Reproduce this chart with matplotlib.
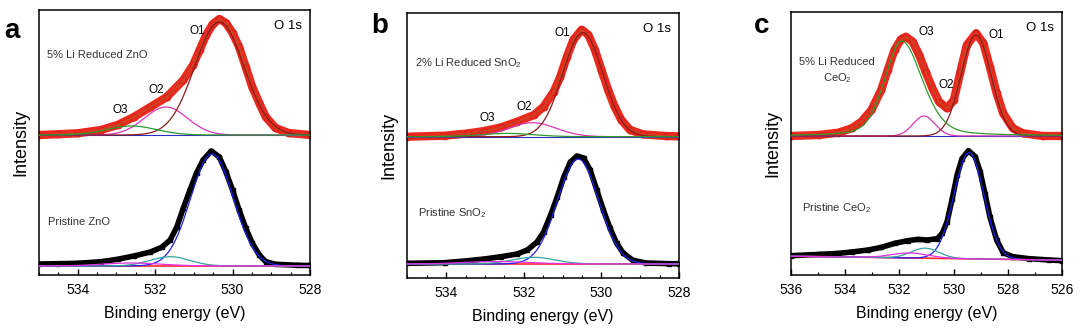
import numpy as np
import matplotlib
matplotlib.use('Agg')
import matplotlib.pyplot as plt
from matplotlib.ticker import MultipleLocator

plt.rcParams['font.family'] = ['Liberation Sans', 'DejaVu Sans']
plt.rcParams['mathtext.default'] = 'regular'

a_top_be = [535.0, 534.5, 534.0, 533.4, 532.97, 532.55, 532.12, 531.70, 531.27, 531.02,
            530.85, 530.68, 530.51, 530.34, 530.17, 530.00, 529.83, 529.66, 529.49,
            529.31, 529.14, 528.89, 528.55, 528.0]
a_top_int = [0, 0.8, 1.7, 5, 10, 18, 28, 38, 55, 70, 85, 100, 111, 116, 112, 102, 88, 68,
             48, 32, 18, 7, 2, 0]
a_bot_be = [535.0, 534.5, 534.0, 533.4, 532.97, 532.55, 532.12, 531.83, 531.61, 531.44,
            531.27, 531.10, 530.93, 530.76, 530.55, 530.34, 530.17, 530.00, 529.83,
            529.66, 529.49, 529.31, 529.14, 528.89, 528.3, 528.0]
a_bot_int = [2, 2.3, 2.7, 4.3, 6.7, 10, 14, 18.7, 26, 39, 58, 76, 93, 106, 115, 109, 94,
             76, 56, 38, 23, 11, 4.3, 1.7, 0.7, 0.5]

b_top_be = [535.0, 534.04, 533.44, 533.02, 532.59, 532.17, 531.74, 531.49, 531.23, 531.06,
            530.89, 530.72, 530.51, 530.34, 530.17, 530.00, 529.83, 529.66, 529.49,
            529.27, 528.93, 528.34, 528.0]
b_top_int = [0, 1, 3.3, 5.7, 9.3, 15, 21.7, 30, 45, 60, 80, 97, 107, 102, 87, 67, 47, 30,
             17, 7, 2.3, 0.7, 0.3]
b_bot_be = [535.0, 534.04, 533.44, 533.02, 532.59, 532.17, 531.91, 531.66, 531.49, 531.31,
            531.14, 530.97, 530.80, 530.63, 530.46, 530.29, 530.12, 529.95, 529.78,
            529.61, 529.44, 529.19, 528.85, 528.25, 528.0]
b_bot_int = [0.7, 1.3, 3.3, 5, 7.3, 10, 14, 22, 32, 49, 67, 87, 102, 108, 106, 94, 74, 54,
             36, 21, 11, 3.7, 1, 0.3, 0.3]

c_top_be = [536.0, 534.98, 534.25, 533.76, 533.40, 533.03, 532.67, 532.43, 532.18, 531.94,
            531.76, 531.51, 531.27, 531.03, 530.78, 530.54, 530.24, 529.99, 529.75,
            529.51, 529.17, 528.90, 528.66, 528.41, 528.17, 527.81, 527.44, 526.71, 526.0]
c_top_int = [0, 1, 3.3, 7.7, 14.3, 26, 46, 66, 86, 96.7, 99.3, 94.3, 81, 64, 47.7, 34.3,
             27.7, 36, 64, 91, 102.7, 92.7, 69, 42.7, 22.7, 7.7, 2.7, 0, 0]
c_bot_be = [536.0, 534.98, 534.25, 533.76, 533.15, 532.67, 532.18, 531.70, 531.33, 530.97,
            530.60, 530.42, 530.24, 530.05, 529.87, 529.69, 529.45, 529.20, 529.02,
            528.84, 528.66, 528.41, 528.17, 527.81, 527.20, 526.47, 526.0]
c_bot_int = [5, 6.3, 7.3, 8.7, 10.7, 13.3, 17.3, 20, 21.3, 20.7, 22, 27.3, 39, 62, 85.7,
             102, 110, 104, 89, 67, 44, 20.7, 8, 4, 2, 0.7, 0]

# ── fitted components: centre (eV), height, FWHM high-BE side, FWHM low-BE side, Lorentz frac ──
a_top_center = [530.34, 531.72, 532.60]        # O1, O2, O3
a_top_height = [113, 28, 9]
a_top_fwhm = [1.5, 1.3, 1.5]
a_bot_center = [530.53, 531.61, 532.60]        # main, shoulder, broad
a_bot_height = [112, 9.3, 3]
a_bot_fwhm = [1.3, 1.2, 1.8]

b_top_center = [530.48, 531.78, 532.42]
b_top_height = [104, 14, 3.3]
b_top_fwhm = [1.22, 1.45, 1.6]
b_bot_center = [530.60, 531.74, 532.70]
b_bot_height = [105, 6.7, 2.5]
b_bot_fwhm = [1.25, 1.3, 2.0]

c_top_center = [529.17, 531.09, 531.92]
c_top_height = [101, 20, 95]
c_top_fwhm = [1.3, 0.95, 1.46]
c_top_fwhm_low = [1.3, 0.95, 1.8]
c_top_eta = [0, 0, 0.3]
c_bot_center = [529.43, 531.05, 531.60]
c_bot_height = [106, 10, 5]
c_bot_fwhm = [1.3, 1.2, 1.6]
c_bot_base = [4.5, 0.5]                          # sloped background at 536 / 526 eV


def peak(x, c, h, w_hi, w_lo=None, eta=0.0):
    w_lo = w_hi if w_lo is None else w_lo
    w = np.where(x >= c, w_hi, w_lo)
    u = (x - c) / w
    return h * ((1 - eta) * np.exp(-4 * np.log(2) * u**2) + eta / (1 + 4 * u**2))


RED = '#ea2a1f'
top_cols = ['#8a1c1c', '#d936b8', '#2c9a2c']     # O1, O2, O3
bot_cols = ['#1f1ff0', '#35a3a0', '#e030e0']     # main, shoulder, broad

fig = plt.figure(figsize=(10.8, 3.3), dpi=100)
fig.patch.set_facecolor('white')

rects = [[0.0361, 0.1667, 0.2509, 0.8030],
         [0.3773, 0.1576, 0.2514, 0.8030],
         [0.7324, 0.1667, 0.2509, 0.7970]]
xlims = [(535, 528), (535, 528), (536, 526)]
ylims = [265, 265, 263]
offs = [(140, 9), (141.3, 14), (139, 14.3)]
minors = [0.5, 0.5, 1.0]

tops = [(a_top_be, a_top_int), (b_top_be, b_top_int), (c_top_be, c_top_int)]
bots = [(a_bot_be, a_bot_int), (b_bot_be, b_bot_int), (c_bot_be, c_bot_int)]
top_fits = [(a_top_center, a_top_height, a_top_fwhm, a_top_fwhm, [0, 0, 0]),
            (b_top_center, b_top_height, b_top_fwhm, b_top_fwhm, [0, 0, 0]),
            (c_top_center, c_top_height, c_top_fwhm, c_top_fwhm_low, c_top_eta)]
bot_fits = [(a_bot_center, a_bot_height, a_bot_fwhm, [0, 0]),
            (b_bot_center, b_bot_height, b_bot_fwhm, [0, 0]),
            (c_bot_center, c_bot_height, c_bot_fwhm, c_bot_base)]

axes = []
for i in range(3):
    ax = fig.add_axes(rects[i])
    axes.append(ax)
    x = np.linspace(min(xlims[i]), max(xlims[i]), 500)
    o_top, o_bot = offs[i]

    # top spectrum (Li reduced)
    be, it = tops[i]
    ax.plot(be, np.array(it) + o_top, color=RED, lw=6, marker='o', ms=5,
            mec='#d81f17', mfc=RED, mew=0.6, solid_capstyle='round', zorder=2)
    ax.plot(be, np.array(it) + o_top, color='#8a7a2a', lw=0.5, alpha=0.8, zorder=3)
    cen, hgt, whi, wlo, eta = top_fits[i]
    ax.plot(x, np.zeros_like(x) + o_top, color='#3030c0', lw=0.8, zorder=3)
    for k in [1, 0, 2]:
        ax.plot(x, peak(x, cen[k], hgt[k], whi[k], wlo[k], eta[k]) + o_top,
                color=top_cols[k], lw=0.9, zorder=4)

    # bottom spectrum (pristine)
    be, it = bots[i]
    ax.plot(be, np.array(it) + o_bot, color='black', lw=4, marker='s', ms=3.5,
            mec='black', mfc='black', zorder=2)
    cen, hgt, wid, base = bot_fits[i]
    bg = base[0] + (base[1] - base[0]) * (max(xlims[i]) - x) / (max(xlims[i]) - min(xlims[i]))
    ax.plot(x, bg + o_bot, color='#ff2a2a', lw=1.2, zorder=3)
    for k in [0, 1, 2]:
        ax.plot(x, peak(x, cen[k], hgt[k], wid[k]) + bg + o_bot,
                color=bot_cols[k], lw=0.9, zorder=4)

    ax.set_xlim(*xlims[i])
    ax.set_ylim(0, ylims[i])
    ax.set_yticks([])
    ax.xaxis.set_major_locator(MultipleLocator(2))
    ax.xaxis.set_minor_locator(MultipleLocator(minors[i]))
    ax.tick_params(axis='x', which='major', direction='in', length=4, width=1,
                   labelsize=10, pad=6)
    ax.tick_params(axis='x', which='minor', direction='in', length=2.5, width=0.8)
    for s in ax.spines.values():
        s.set_linewidth(1.1)
    ax.set_xlabel('Binding energy (eV)', fontsize=11.5, labelpad=6.5)
    ax.set_ylabel('Intensity', fontsize=13, labelpad=7)
    ax.text(0.92, 0.94, 'O 1s', transform=ax.transAxes, ha='center', va='center',
            fontsize=9.5)

fs = 8
lc = '#333333'
ax = axes[0]
ax.text(0.03, 0.83, '5% Li Reduced ZnO', transform=ax.transAxes, va='center', fontsize=fs,
        color=lc)
ax.text(0.034, 0.20, 'Pristine ZnO', transform=ax.transAxes, va='center', fontsize=fs,
        color=lc)
ax.text(0.583, 0.921, 'O1', transform=ax.transAxes, ha='center', va='center', fontsize=8.5)
ax.text(0.432, 0.698, 'O2', transform=ax.transAxes, ha='center', va='center', fontsize=8.5)
ax.text(0.299, 0.623, 'O3', transform=ax.transAxes, ha='center', va='center', fontsize=8.5)

ax = axes[1]
ax.text(0.028, 0.811, '2% Li Reduced SnO$_2$', transform=ax.transAxes, va='center',
        fontsize=fs, color=lc)
ax.text(0.039, 0.245, 'Pristine SnO$_2$', transform=ax.transAxes, va='center', fontsize=fs,
        color=lc)
ax.text(0.569, 0.925, 'O1', transform=ax.transAxes, ha='center', va='center', fontsize=8.5)
ax.text(0.429, 0.645, 'O2', transform=ax.transAxes, ha='center', va='center', fontsize=8.5)
ax.text(0.293, 0.604, 'O3', transform=ax.transAxes, ha='center', va='center', fontsize=8.5)

ax = axes[2]
ax.text(0.17, 0.776, '5% Li Reduced\nCeO$_2$', transform=ax.transAxes, ha='center',
        va='center', fontsize=fs, color=lc, linespacing=1.45)
ax.text(0.04, 0.255, 'Pristine CeO$_2$', transform=ax.transAxes, va='center', fontsize=fs,
        color=lc)
ax.text(0.50, 0.924, 'O3', transform=ax.transAxes, ha='center', va='center', fontsize=8.5)
ax.text(0.756, 0.913, 'O1', transform=ax.transAxes, ha='center', va='center', fontsize=8.5)
ax.text(0.572, 0.722, 'O2', transform=ax.transAxes, ha='center', va='center', fontsize=8.5)

fig.text(0.004, 0.885, 'a', fontsize=20, fontweight='bold', va='baseline')
fig.text(0.344, 0.90, 'b', fontsize=20, fontweight='bold', va='baseline')
fig.text(0.698, 0.90, 'c', fontsize=20, fontweight='bold', va='baseline')

fig.savefig('out.png', dpi=100, facecolor='white')
